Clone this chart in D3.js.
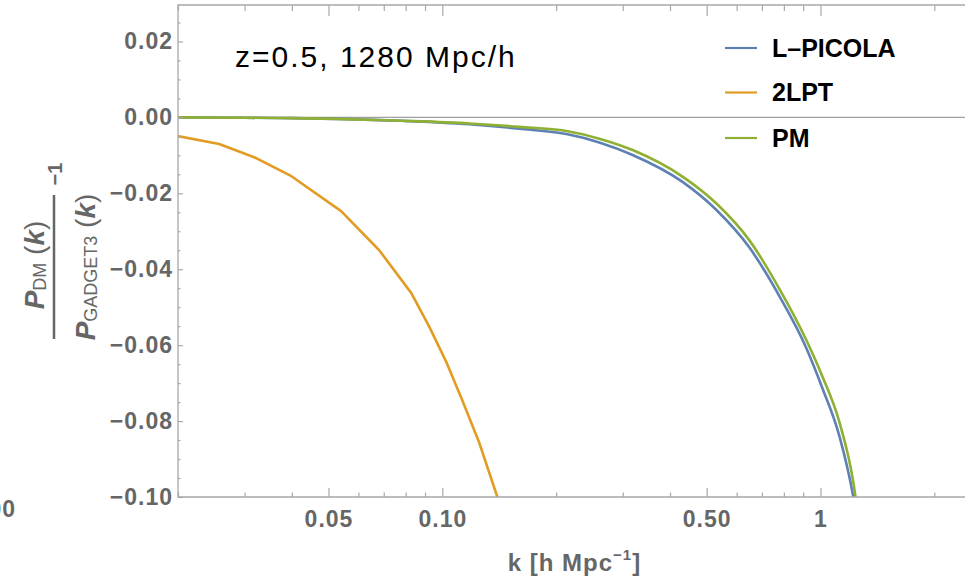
<!DOCTYPE html>
<html>
<head>
<meta charset="utf-8">
<script src="https://cdn.jsdelivr.net/npm/d3@7"></script>
<style>
  body { margin: 0; background: #fff; }
  svg { display: block; font-family: "Liberation Sans", Arial, Helvetica, sans-serif; }
</style>
</head>
<body>
<div id="chart"></div>
<script>
// values
const kSmooth = [0.0199, 0.03, 0.04, 0.0524, 0.0784, 0.1179, 0.1598, 0.2128, 0.26, 0.3185, 0.4317, 0.5307, 0.6487, 0.7797, 0.9157, 1.0122, 1.1228, 1.2211, 1.24];
const lpicolaValues = [0, -0.0001, -0.0002, -0.0004, -0.0009, -0.0018, -0.0030, -0.0044, -0.0066, -0.0099, -0.0170, -0.0244, -0.0343, -0.0472, -0.0606, -0.0714, -0.0841, -0.1000, -0.1040];
const pmValues = [0, -0.0001, -0.0002, -0.0004, -0.0009, -0.0016, -0.0025, -0.0036, -0.0056, -0.0086, -0.0156, -0.0227, -0.0324, -0.0453, -0.0585, -0.0683, -0.0804, -0.0961, -0.1005];
const k2lpt = [0.0199, 0.0257, 0.0318, 0.0399, 0.0540, 0.0681, 0.0828, 0.0924, 0.1024, 0.1129, 0.1253, 0.1398, 0.1420];
const values2lpt = [-0.0049, -0.0070, -0.0105, -0.0155, -0.0247, -0.0350, -0.0463, -0.0552, -0.0644, -0.0745, -0.0858, -0.1000, -0.1020];

const seriesNames = ["L–PICOLA", "2LPT", "PM"];
const seriesColors = ["#5E81B5", "#E19C24", "#8FB032"];

const xMajor = [0.05, 0.1, 0.5, 1];
const xLabels = ["0.05", "0.10", "0.50", "1"];
const xMinor = [0.02, 0.03, 0.04, 0.06, 0.07, 0.08, 0.09, 0.2, 0.3, 0.4, 0.6, 0.7, 0.8, 0.9, 2];
const yMajor = [-0.1, -0.08, -0.06, -0.04, -0.02, 0, 0.02];
const yMinor = d3.range(-0.095, 0.03, 0.005).filter(v => Math.abs(Math.round(v * 50) - v * 50) > 0.01);

const width = 965, height = 576;
const margin = {top: 5, left: 178, bottom: 79, right: -6};
const gray = "#666";
const frameColor = "#a8a8a8";

const svg = d3.create("svg").attr("width", width).attr("height", height);

const x = d3.scaleLog()
    .domain([0.02, 2.5])
    .range([margin.left, width - margin.right]);
const y = d3.scaleLinear()
    .domain([-0.1, 0.0296])
    .range([height - margin.bottom, margin.top]);

const bottomY = height - margin.bottom;

svg.append("defs").append("clipPath").attr("id", "clip")
  .append("rect")
    .attr("x", margin.left).attr("y", margin.top)
    .attr("width", x.range()[1] - margin.left)
    .attr("height", bottomY - margin.top);

// zero line
svg.append("line")
    .attr("x1", margin.left).attr("x2", x.range()[1])
    .attr("y1", y(0)).attr("y2", y(0))
    .attr("stroke", "#a0a0a0").attr("stroke-width", 1.2);

// curves
const line = d3.line().x(d => x(d[0])).y(d => y(d[1]));
const lines = [
  {data: kSmooth.map((k, i) => [k, lpicolaValues[i]]), curve: d3.curveMonotoneX, color: seriesColors[0]},
  {data: k2lpt.map((k, i) => [k, values2lpt[i]]), curve: d3.curveLinear, color: seriesColors[1]},
  {data: kSmooth.map((k, i) => [k, pmValues[i]]), curve: d3.curveMonotoneX, color: seriesColors[2]}
];
svg.append("g").attr("clip-path", "url(#clip)")
  .selectAll("path")
  .data(lines)
  .join("path")
    .attr("fill", "none")
    .attr("stroke", d => d.color)
    .attr("stroke-width", 2.6)
    .attr("stroke-linejoin", "round")
    .attr("d", d => line.curve(d.curve)(d.data));

// frame
const frame = svg.append("g").attr("stroke", frameColor).attr("stroke-width", 1.3).attr("fill", "none");
frame.append("path")
    .attr("d", `M${x.range()[1]},${margin.top}H${margin.left}V${bottomY}H${x.range()[1]}`);

const styleAxis = g => {
  g.select(".domain").remove();
  g.selectAll(".tick line").attr("stroke", frameColor).attr("stroke-width", 1.2);
  g.selectAll("text")
    .attr("fill", gray)
    .attr("font-size", 23)
    .attr("font-weight", "bold")
    .attr("letter-spacing", 1);
};

// bottom axis
svg.append("g")
    .attr("transform", `translate(0,${bottomY})`)
    .call(d3.axisBottom(x).tickValues(xMajor).tickSize(-9).tickPadding(14)
      .tickFormat((d, i) => xLabels[i]))
    .call(styleAxis);
svg.append("g")
    .attr("transform", `translate(0,${bottomY})`)
    .call(d3.axisBottom(x).tickValues(xMinor).tickSize(-4.5).tickFormat(""))
    .call(styleAxis);

// top axis
svg.append("g")
    .attr("transform", `translate(0,${margin.top})`)
    .call(d3.axisTop(x).tickValues(xMajor).tickSize(-11).tickFormat(""))
    .call(styleAxis);
svg.append("g")
    .attr("transform", `translate(0,${margin.top})`)
    .call(d3.axisTop(x).tickValues(xMinor).tickSize(-6).tickFormat(""))
    .call(styleAxis);

// left axis
svg.append("g")
    .attr("transform", `translate(${margin.left},0)`)
    .call(d3.axisLeft(y).tickValues(yMajor).tickSize(-5).tickPadding(5).tickFormat(d3.format(".2f")))
    .call(styleAxis);
svg.append("g")
    .attr("transform", `translate(${margin.left},0)`)
    .call(d3.axisLeft(y).tickValues(yMinor).tickSize(-2.5).tickFormat(""))
    .call(styleAxis);

// leftover label of the neighbouring panel
svg.append("text")
    .attr("x", 16).attr("y", 517)
    .attr("text-anchor", "end")
    .attr("fill", gray).attr("font-size", 23).attr("font-weight", "bold")
    .attr("letter-spacing", 1)
    .text("0.00");

// x label
const xl = svg.append("text")
    .attr("x", (margin.left + x.range()[1]) / 2).attr("y", 571)
    .attr("text-anchor", "middle")
    .attr("fill", gray).attr("font-size", 24).attr("font-weight", "bold")
    .attr("letter-spacing", 1);
xl.append("tspan").text("k [h Mpc");
xl.append("tspan").attr("font-size", 15).attr("dy", -11).text("−1");
xl.append("tspan").attr("dy", 11).text("]");

// y label: fraction, rotated
const ylab = svg.append("g").attr("fill", gray).attr("font-weight", "bold");
const num = ylab.append("text")
    .attr("transform", "translate(44,265) rotate(-90)")
    .attr("text-anchor", "middle").attr("font-size", 28);
num.append("tspan").attr("font-style", "italic").text("P");
num.append("tspan").attr("font-size", 18).attr("font-weight", "normal").attr("dy", 2).text("DM");
num.append("tspan").attr("dy", -2).attr("font-weight", "normal").text(" (");
num.append("tspan").attr("font-style", "italic").text("k");
num.append("tspan").attr("font-weight", "normal").text(")");

ylab.append("line")
    .attr("x1", 54).attr("x2", 54).attr("y1", 195).attr("y2", 339)
    .attr("stroke", gray).attr("stroke-width", 2.5);

const den = ylab.append("text")
    .attr("transform", "translate(95,267) rotate(-90)")
    .attr("text-anchor", "middle").attr("font-size", 28);
den.append("tspan").attr("font-style", "italic").text("P");
den.append("tspan").attr("font-size", 18).attr("font-weight", "normal").attr("dy", 2).text("GADGET3");
den.append("tspan").attr("dy", -2).attr("font-weight", "normal").text(" (");
den.append("tspan").attr("font-style", "italic").text("k");
den.append("tspan").attr("font-weight", "normal").text(")");

ylab.append("text")
    .attr("transform", "translate(62,174) rotate(-90)")
    .attr("text-anchor", "middle").attr("font-size", 20)
    .text("−1");

// title
svg.append("text")
    .attr("x", 235).attr("y", 67)
    .attr("font-size", 30).attr("letter-spacing", 2)
    .attr("fill", "#000")
    .text("z=0.5, 1280 Mpc/h");

// legend
const legend = svg.append("g")
  .selectAll("g")
  .data(seriesNames)
  .join("g")
    .attr("transform", (d, i) => `translate(725,${[48, 92.5, 138][i]})`);
legend.append("line")
    .attr("x1", 0).attr("x2", 32)
    .attr("stroke", (d, i) => seriesColors[i]).attr("stroke-width", 2.2);
legend.append("text")
    .attr("x", 47).attr("y", 8.5)
    .attr("font-size", 25).attr("font-weight", "bold")
    .attr("fill", "#000")
    .attr("stroke", "#fff").attr("stroke-width", 3).attr("paint-order", "stroke")
    .text(d => d);

document.getElementById("chart").appendChild(svg.node());
</script>
</body>
</html>
